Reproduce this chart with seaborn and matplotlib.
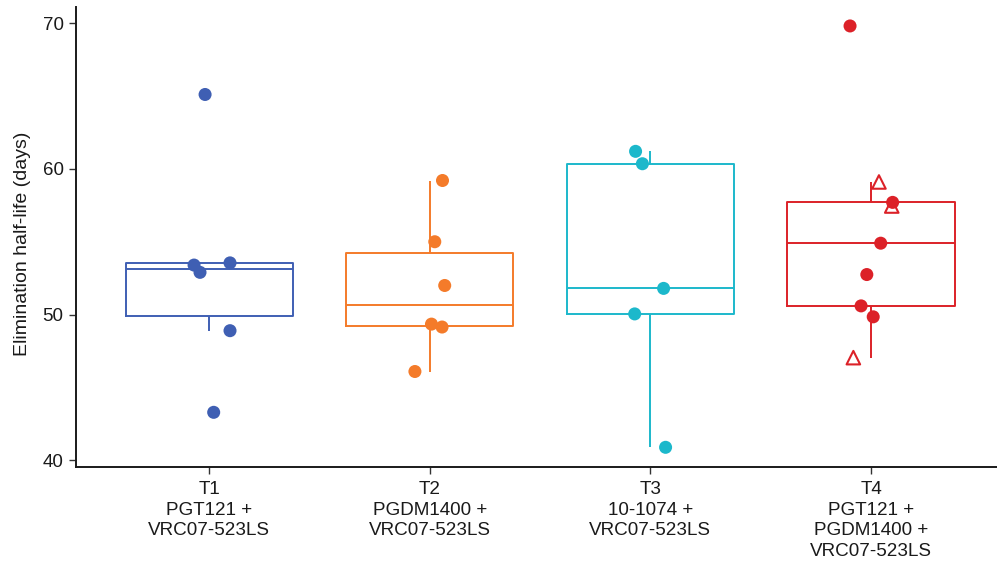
import numpy as np
import pandas as pd
import matplotlib
matplotlib.use("Agg")
import matplotlib.pyplot as plt
import seaborn as sns

# Treatment groups and their tick labels
groups = ["T1", "T2", "T3", "T4"]
tick_labels = [
    "T1\nPGT121 +\nVRC07-523LS",
    "T2\nPGDM1400 +\nVRC07-523LS",
    "T3\n10-1074 +\nVRC07-523LS",
    "T4\nPGT121 +\nPGDM1400 +\nVRC07-523LS",
]
colors = ["#3F5FB3", "#F47B2A", "#1CB8CB", "#DC2128"]

# Elimination half-life (days) per animal
t1_values = [65.1, 53.4, 52.9, 53.55, 48.9, 43.3]
t2_values = [59.2, 55.0, 52.0, 49.35, 49.15, 46.1]
t3_values = [61.2, 60.35, 51.8, 50.05, 40.9]
t4_values = [69.8, 57.7, 54.9, 52.75, 50.6, 49.85, 59.1, 57.45, 47.05]

# Point shape per animal: "circle" or "triangle"
t1_shapes = ["circle"] * 6
t2_shapes = ["circle"] * 6
t3_shapes = ["circle"] * 5
t4_shapes = ["circle"] * 6 + ["triangle"] * 3

# Horizontal jitter of each point (in category units)
t1_jitter = [-0.018, -0.068, -0.041, 0.095, 0.095, 0.021]
t2_jitter = [0.058, 0.023, 0.068, 0.008, 0.056, -0.067]
t3_jitter = [-0.067, -0.036, 0.060, -0.071, 0.069]
t4_jitter = [-0.095, 0.098, 0.044, -0.019, -0.045, 0.010, 0.036, 0.094, -0.080]

values = [t1_values, t2_values, t3_values, t4_values]
shapes = [t1_shapes, t2_shapes, t3_shapes, t4_shapes]
jitters = [t1_jitter, t2_jitter, t3_jitter, t4_jitter]

rows = []
for i, g in enumerate(groups):
    for v, s, j in zip(values[i], shapes[i], jitters[i]):
        rows.append({"group": g, "value": v, "shape": s, "xpos": i + j})
df = pd.DataFrame(rows)
palette = dict(zip(groups, colors))

sns.set_theme(style="ticks")
plt.rcParams["font.family"] = ["Liberation Sans", "DejaVu Sans"]

fig = plt.figure(figsize=(9.97, 5.71), dpi=100)
ax = fig.add_axes([76 / 997, 1 - 467 / 571, 1 - 76 / 997, (467 - 7) / 571])

sns.boxplot(
    data=df, x="group", y="value", hue="group", order=groups,
    hue_order=groups, palette=palette, fill=False, showfliers=False,
    showcaps=False, width=0.757, linewidth=1.4, whis=1.5,
    legend=False, ax=ax,
)

circles = df[df["shape"] == "circle"]
triangles = df[df["shape"] == "triangle"]

sns.scatterplot(
    data=circles, x="xpos", y="value", hue="group", hue_order=groups,
    palette=palette, s=88, edgecolor="none", linewidth=0,
    legend=False, ax=ax, zorder=5,
)
sns.scatterplot(
    data=triangles, x="xpos", y="value", hue="group", hue_order=groups,
    palette=palette, marker="^", s=95, linewidth=1.5,
    legend=False, ax=ax, zorder=5,
)
tri = ax.collections[-1]
tri_colors = tri.get_facecolors()
tri.set_edgecolors(tri_colors)
tri.set_facecolors("none")

ax.set_xlim(-0.603, 3.571)
ax.set_ylim(39.55, 71.1)
ax.set_yticks([40, 50, 60, 70])
ax.set_xticks(range(len(groups)))
ax.set_xticklabels(tick_labels, ha="center", multialignment="center",
                   linespacing=1.28, fontsize=13.6)
ax.set_xlabel("")
ax.set_ylabel("Elimination half-life (days)", fontsize=14, color="#1a1a1a")
ax.yaxis.set_label_coords(-0.049, 0.485)

ax.tick_params(axis="both", length=5, width=1.0, color="#333333",
               labelcolor="#1a1a1a", pad=4)
ax.tick_params(axis="x", pad=5)
ax.tick_params(axis="y", labelsize=13.5)
for side in ["top", "right"]:
    ax.spines[side].set_visible(False)
for side in ["left", "bottom"]:
    ax.spines[side].set_linewidth(1.4)
    ax.spines[side].set_color("#1a1a1a")

fig.savefig("out.png", dpi=100)
